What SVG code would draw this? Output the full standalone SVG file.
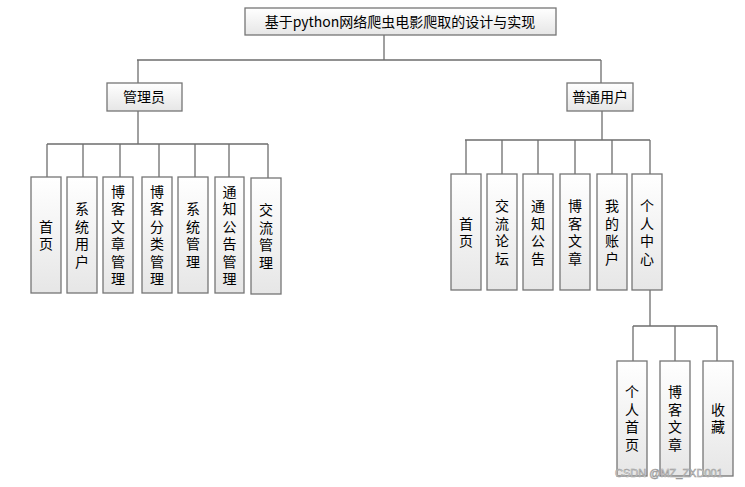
<svg xmlns="http://www.w3.org/2000/svg" width="745" height="487" viewBox="0 0 745 487">
<defs>
<linearGradient id="g" x1="0" y1="0" x2="0" y2="1">
<stop offset="0" stop-color="#ffffff"/>
<stop offset="1" stop-color="#e6e6e6"/>
</linearGradient>
<style>
.box{fill:url(#g);stroke:#767676;stroke-width:1.3}
.t{font-family:"SimSun","Noto Sans CJK SC","Liberation Sans",sans-serif;font-size:14px;fill:#000;text-anchor:middle}
.v{font-family:"SimSun","Noto Sans CJK SC",sans-serif;font-size:14px;fill:#000;text-anchor:middle;writing-mode:vertical-rl;text-orientation:upright;letter-spacing:3.5px}
.c{fill:none;stroke:#6e6e6e;stroke-width:1.3}
.wm{font-family:"Liberation Sans","Noto Sans CJK SC",sans-serif;font-size:11px;fill:#ffffff;stroke:#9a9a9a;stroke-width:0.6}
</style>
</defs>
<rect width="745" height="487" fill="#ffffff"/>
<g id="connectors">
<path class="c" d="M384 35V60M137 60H601"/>
<path class="c" d="M138 60V83M138 111V144M47 144H268M47 144V177M83 144V177M120 144V177M159 144V177M195 144V177M229 144V177M268 144V178"/>
<path class="c" d="M601 60V83M602 111V140M465 140H650M466 140V174M502 140V174M538 140V174M575 140V174M612 140V174M650 140V174"/>
<path class="c" d="M650 290V326M633 326H717M633 326V361M675 326V361M717 326V361"/>
</g>
<g id="title"><rect class="box" x="245" y="8" width="311" height="27"/><text class="t" x="400" y="27">基于python网络爬虫电影爬取的设计与实现</text></g>
<g id="admin"><rect class="box" x="107" y="83" width="75" height="28"/><text class="t" x="144" y="102">管理员</text></g>
<g id="user"><rect class="box" x="567" y="83" width="66" height="28"/><text class="t" x="600" y="102">普通用户</text></g>
<g id="a1"><rect class="box" x="31" y="177" width="30" height="116"/><text class="v" x="46" y="237">首页</text></g>
<g id="a2"><rect class="box" x="67" y="177" width="30" height="116"/><text class="v" x="82" y="237">系统用户</text></g>
<g id="a3"><rect class="box" x="103" y="177" width="30" height="116"/><text class="v" x="118" y="237">博客文章管理</text></g>
<g id="a4"><rect class="box" x="142" y="177" width="30" height="116"/><text class="v" x="157" y="237">博客分类管理</text></g>
<g id="a5"><rect class="box" x="178" y="177" width="30" height="116"/><text class="v" x="193" y="237">系统管理</text></g>
<g id="a6"><rect class="box" x="215" y="177" width="29" height="116"/><text class="v" x="229.5" y="237">通知公告管理</text></g>
<g id="a7"><rect class="box" x="251" y="178" width="30" height="116"/><text class="v" x="266" y="238">交流管理</text></g>
<g id="u1"><rect class="box" x="451" y="174" width="30" height="116"/><text class="v" x="466" y="234">首页</text></g>
<g id="u2"><rect class="box" x="487" y="174" width="30" height="116"/><text class="v" x="502" y="234">交流论坛</text></g>
<g id="u3"><rect class="box" x="523" y="174" width="30" height="116"/><text class="v" x="538" y="234">通知公告</text></g>
<g id="u4"><rect class="box" x="560" y="174" width="30" height="116"/><text class="v" x="575" y="234">博客文章</text></g>
<g id="u5"><rect class="box" x="597" y="174" width="30" height="116"/><text class="v" x="612" y="234">我的账户</text></g>
<g id="u6"><rect class="box" x="632" y="174" width="30" height="116"/><text class="v" x="647" y="234">个人中心</text></g>
<g id="p1"><rect class="box" x="617" y="361" width="30" height="115"/><text class="v" x="632" y="420">个人首页</text></g>
<g id="p2"><rect class="box" x="660" y="361" width="30" height="115"/><text class="v" x="675" y="420">博客文章</text></g>
<g id="p3"><rect class="box" x="703" y="361" width="30" height="115"/><text class="v" x="718" y="420">收藏</text></g>
<text class="wm" x="615" y="477">CSDN @MZ_ZXD001</text>
</svg>
